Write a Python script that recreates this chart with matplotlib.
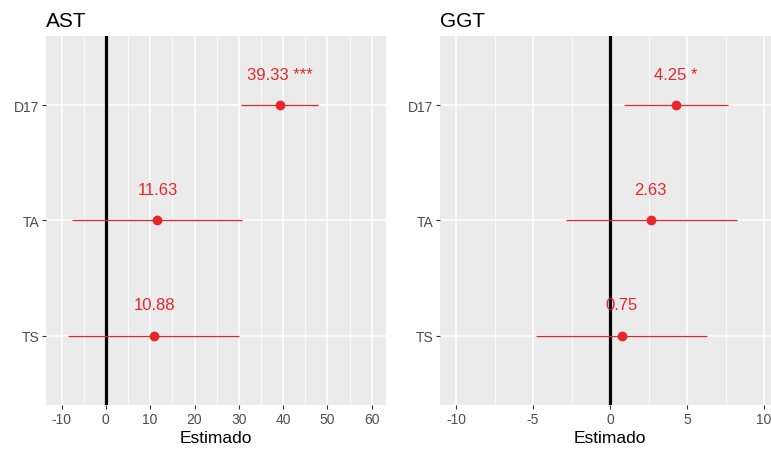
import numpy as np
import matplotlib.pyplot as plt

plt.rcParams['font.family'] = ['Liberation Sans', 'DejaVu Sans']
plt.rcParams['axes.unicode_minus'] = False

groups = ['TS', 'TA', 'D17']

ast_est = [10.88, 11.63, 39.33]
ast_low = [-8.6, -7.7, 30.5]
ast_high = [30.0, 30.7, 47.9]
ast_sig = ['', '', ' ***']

ggt_est = [0.75, 2.63, 4.25]
ggt_low = [-4.8, -2.86, 0.89]
ggt_high = [6.3, 8.25, 7.68]
ggt_sig = ['', '', ' *']

RED = '#E8262A'
GREY_BG = '#EBEBEB'
TICK_COL = '#4D4D4D'


def forest(ax, title, est, low, high, sig, xlim, major, minor):
    y = np.arange(1, len(groups) + 1)
    ax.set_facecolor(GREY_BG)
    for s in ax.spines.values():
        s.set_visible(False)
    ax.set_xlim(*xlim)
    ax.set_ylim(0.4, len(groups) + 0.6)
    ax.set_xticks(major)
    ax.set_xticks(minor, minor=True)
    ax.set_yticks(y)
    ax.set_yticklabels(groups)
    ax.grid(which='major', color='white', lw=1.1)
    ax.grid(which='minor', axis='x', color='white', lw=0.55)
    ax.set_axisbelow(True)
    ax.tick_params(which='major', length=3, width=0.8, color='#333333',
                   labelcolor=TICK_COL, labelsize=10, pad=2)
    ax.tick_params(which='minor', length=0)

    ax.axvline(0, color='black', lw=2.3, zorder=2)
    ax.hlines(y, low, high, color=RED, lw=0.9, zorder=3)
    ax.plot(est, y, 'o', color=RED, ms=6, zorder=4)
    for yi, e, s in zip(y, est, sig):
        ax.text(e, yi + 0.27, f'{e:.2f}{s}', color=RED, fontsize=12,
                ha='center', va='center', zorder=5)

    ax.set_title(title, loc='left', fontsize=15, pad=7)
    ax.set_xlabel('Estimado', fontsize=12.5, labelpad=3)


fig = plt.figure(figsize=(7.71, 4.52), dpi=100)
ax1 = fig.add_axes([0.0597, 0.1018, 0.4409, 0.8164])
ax2 = fig.add_axes([0.5707, 0.1018, 0.4403, 0.8164])

forest(ax1, 'AST', ast_est, ast_low, ast_high, ast_sig,
       (-13.5, 63.2), np.arange(-10, 61, 10), np.arange(-5, 61, 10))
forest(ax2, 'GGT', ggt_est, ggt_low, ggt_high, ggt_sig,
       (-11.04, 11.0), np.arange(-10, 11, 5), np.arange(-7.5, 11, 5))

fig.savefig('out.png', dpi=100)
